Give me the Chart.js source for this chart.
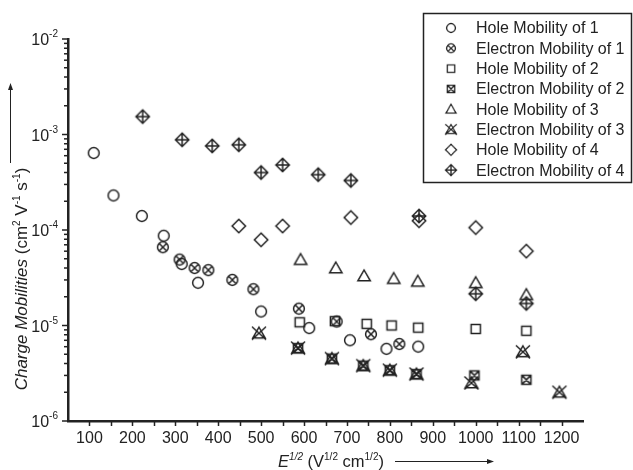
<!DOCTYPE html>
<html>
<head>
<meta charset="utf-8">
<script src="https://cdn.jsdelivr.net/npm/chart.js@4.4.0/dist/chart.umd.min.js"></script>
<style>
  html, body { margin: 0; padding: 0; background: #fff; }
  #wrap { width: 633px; height: 470px; }
</style>
</head>
<body>
<div id="wrap"><canvas id="mobChart" width="633" height="470"></canvas></div>
<script>
// axis ranges and tick labels
const xMin = 50, xMax = 1250;
const yMin = 1e-6, yMax = 1e-2;
const xTickValues = [100, 200, 300, 400, 500, 600, 700, 800, 900, 1000, 1100, 1200];
const yTickExponents = [-2, -3, -4, -5, -6];

const seriesLabels = [
  'Hole Mobility of 1', 'Electron Mobility of 1',
  'Hole Mobility of 2', 'Electron Mobility of 2',
  'Hole Mobility of 3', 'Electron Mobility of 3',
  'Hole Mobility of 4', 'Electron Mobility of 4'
];

// values (E^1/2, mobility)
const hole1X = [110, 156, 222, 273, 315, 353, 500, 612, 707, 792, 866];
const hole1Y = [6.4e-4, 2.3e-4, 1.4e-4, 8.7e-5, 4.4e-5, 2.8e-5, 1.4e-5, 9.4e-6, 7.0e-6, 5.7e-6, 6.0e-6];
const elec1X = [271, 310, 345, 377, 433, 482, 588, 676, 756, 822];
const elec1Y = [6.6e-5, 4.9e-5, 4.0e-5, 3.8e-5, 3.0e-5, 2.4e-5, 1.5e-5, 1.1e-5, 8.1e-6, 6.4e-6];
const hole2X = [590, 672, 746, 804, 866, 1000, 1118];
const hole2Y = [1.08e-5, 1.11e-5, 1.04e-5, 1.0e-5, 9.5e-6, 9.2e-6, 8.8e-6];
const elec2X = [586, 665, 738, 800, 862, 997, 1118];
const elec2Y = [5.8e-6, 4.5e-6, 3.8e-6, 3.4e-6, 3.1e-6, 3.0e-6, 2.7e-6];
const hole3X = [592, 674, 740, 809, 865, 1000, 1118];
const hole3Y = [4.9e-5, 4.0e-5, 3.3e-5, 3.1e-5, 2.9e-5, 2.8e-5, 2.1e-5];
const elec3X = [495, 586, 665, 738, 800, 862, 990, 1110, 1195];
const elec3Y = [8.3e-6, 5.8e-6, 4.5e-6, 3.8e-6, 3.4e-6, 3.1e-6, 2.5e-6, 5.3e-6, 2.0e-6];
const hole4X = [448, 500, 550, 709, 868, 1000, 1118];
const hole4Y = [1.1e-4, 7.9e-5, 1.1e-4, 1.35e-4, 1.25e-4, 1.06e-4, 6.0e-5];
const elec4X = [224, 316, 386, 448, 500, 550, 633, 709, 868, 1000, 1118];
const elec4Y = [1.54e-3, 8.8e-4, 7.6e-4, 7.8e-4, 4.0e-4, 4.8e-4, 3.8e-4, 3.3e-4, 1.4e-4, 2.15e-5, 1.7e-5];

const ink = '#222';
const fontFamily = '"Liberation Sans", Arial, sans-serif';

// build the open marker symbols as small canvases
function makeMarker(kind) {
  const size = 22;
  const c = document.createElement('canvas');
  c.width = size; c.height = size;
  const g = c.getContext('2d');
  g.translate(size / 2, size / 2);
  g.strokeStyle = ink;
  g.lineWidth = 1.5;
  g.beginPath();
  if (kind === 'circle' || kind === 'circleX') {
    g.arc(0, 0, 5.4, 0, Math.PI * 2);
    if (kind === 'circleX') {
      g.moveTo(-3.7, -3.7); g.lineTo(3.7, 3.7);
      g.moveTo(3.7, -3.7); g.lineTo(-3.7, 3.7);
    }
  } else if (kind === 'square' || kind === 'squareX') {
    g.rect(-4.6, -4.6, 9.2, 9.2);
    if (kind === 'squareX') {
      g.moveTo(-4.6, -4.6); g.lineTo(4.6, 4.6);
      g.moveTo(4.6, -4.6); g.lineTo(-4.6, 4.6);
    }
  } else if (kind === 'triangle' || kind === 'triangleX') {
    g.moveTo(0, -6); g.lineTo(6.2, 4.8); g.lineTo(-6.2, 4.8); g.closePath();
    if (kind === 'triangleX') {
      g.moveTo(-7, -6.5); g.lineTo(7, 6.5);
      g.moveTo(7, -6.5); g.lineTo(-7, 6.5);
    }
  } else if (kind === 'diamond' || kind === 'diamondPlus') {
    g.moveTo(0, -6.7); g.lineTo(6.7, 0); g.lineTo(0, 6.7); g.lineTo(-6.7, 0); g.closePath();
    if (kind === 'diamondPlus') {
      g.moveTo(0, -6.7); g.lineTo(0, 6.7);
      g.moveTo(-6.7, 0); g.lineTo(6.7, 0);
    }
  }
  g.stroke();
  return c;
}

const markerKinds = ['circle', 'circleX', 'square', 'squareX', 'triangle', 'triangleX', 'diamond', 'diamondPlus'];
const seriesX = [hole1X, elec1X, hole2X, elec2X, hole3X, elec3X, hole4X, elec4X];
const seriesY = [hole1Y, elec1Y, hole2Y, elec2Y, hole3Y, elec3Y, hole4Y, elec4Y];

const datasets = seriesLabels.map((label, i) => ({
  label: label,
  data: seriesX[i].map((x, j) => ({ x: x, y: seriesY[i][j] })),
  pointStyle: makeMarker(markerKinds[i]),
  pointRadius: 6,
  showLine: false
}));

// draw text made of runs (normal / italic / superscript)
function drawRuns(ctx, runs, x, y, align) {
  let total = 0;
  runs.forEach(r => { ctx.font = r.font; total += ctx.measureText(r.text).width; });
  let cx = align === 'center' ? x - total / 2 : (align === 'right' ? x - total : x);
  ctx.textAlign = 'left';
  ctx.textBaseline = 'alphabetic';
  runs.forEach(r => {
    ctx.font = r.font;
    ctx.fillText(r.text, cx, y + (r.dy || 0));
    cx += ctx.measureText(r.text).width;
  });
}

function arrowHead(ctx, x, y, dir) {
  ctx.beginPath();
  if (dir === 'up') {
    ctx.moveTo(x, y); ctx.lineTo(x - 2.5, y + 7); ctx.lineTo(x + 2.5, y + 7);
  } else {
    ctx.moveTo(x, y); ctx.lineTo(x - 7, y - 2.5); ctx.lineTo(x - 7, y + 2.5);
  }
  ctx.closePath();
  ctx.fill();
}

const decorPlugin = {
  id: 'decor',
  afterDraw(chart) {
    const ctx = chart.ctx;
    const xs = chart.scales.x, ys = chart.scales.y;
    const area = chart.chartArea;
    const big = '16px ' + fontFamily;
    const small = '10px ' + fontFamily;
    ctx.save();
    ctx.strokeStyle = ink;
    ctx.fillStyle = ink;

    // x ticks every 50, labels every 100
    ctx.lineWidth = 1.5;
    for (let v = xMin + 50; v < xMax; v += 50) {
      const px = Math.round(xs.getPixelForValue(v)) + 0.5;
      ctx.beginPath();
      ctx.moveTo(px, area.bottom);
      ctx.lineTo(px, area.bottom + 5);
      ctx.stroke();
    }
    ctx.font = big;
    ctx.textAlign = 'center';
    ctx.textBaseline = 'middle';
    xTickValues.forEach(v => {
      ctx.fillText(String(v), xs.getPixelForValue(v), area.bottom + 18);
    });

    // y ticks: decades and 2..9 minors
    yTickExponents.forEach(e => {
      const py = ys.getPixelForValue(Math.pow(10, e));
      ctx.beginPath();
      ctx.moveTo(area.left, py);
      ctx.lineTo(area.left - 6, py);
      ctx.stroke();
      if (e < -2) {
        for (let m = 2; m <= 9; m++) {
          const pm = ys.getPixelForValue(m * Math.pow(10, e));
          ctx.beginPath();
          ctx.moveTo(area.left, pm);
          ctx.lineTo(area.left - 4, pm);
          ctx.stroke();
        }
      }
      drawRuns(ctx, [
        { text: '10', font: big },
        { text: '-' + String(-e), font: small, dy: -8 }
      ], area.left - 10, py + 6, 'right');
    });

    // x title + arrow
    const xt = '16.5px ' + fontFamily;
    drawRuns(ctx, [
      { text: 'E', font: 'italic ' + xt },
      { text: '1/2', font: 'italic ' + small, dy: -7 },
      { text: ' (V', font: xt },
      { text: '1/2', font: small, dy: -7 },
      { text: ' cm', font: xt },
      { text: '1/2', font: small, dy: -7 },
      { text: ')', font: xt }
    ], 331, 467, 'center');
    ctx.lineWidth = 1;
    ctx.beginPath();
    ctx.moveTo(395, 461.5); ctx.lineTo(488, 461.5);
    ctx.stroke();
    arrowHead(ctx, 494, 461.5, 'right');

    // y title + arrow
    const yt = '17px ' + fontFamily;
    ctx.save();
    ctx.translate(27, 279);
    ctx.rotate(-Math.PI / 2);
    drawRuns(ctx, [
      { text: 'Charge Mobilities', font: 'italic ' + yt },
      { text: ' (cm', font: yt },
      { text: '2', font: small, dy: -7 },
      { text: ' V', font: yt },
      { text: '-1', font: small, dy: -7 },
      { text: ' s', font: yt },
      { text: '-1', font: small, dy: -7 },
      { text: ')', font: yt }
    ], 0, 0, 'center');
    ctx.restore();
    ctx.beginPath();
    ctx.moveTo(10.5, 163); ctx.lineTo(10.5, 89);
    ctx.stroke();
    arrowHead(ctx, 10.5, 83, 'up');

    // legend box
    ctx.lineWidth = 1.5;
    ctx.strokeRect(423.5, 13.5, 208, 169);
    ctx.font = '16px ' + fontFamily;
    ctx.textAlign = 'left';
    ctx.textBaseline = 'middle';
    chart.data.datasets.forEach((ds, i) => {
      const ly = 28 + i * 20.3;
      const img = ds.pointStyle;
      ctx.drawImage(img, 451 - 9, ly - 9, 18, 18);
      ctx.fillText(ds.label, 476, ly + 1);
    });
    ctx.restore();
  }
};

const ctx = document.getElementById('mobChart').getContext('2d');
const mobChart = new Chart(ctx, {
  type: 'scatter',
  data: { datasets: datasets },
  options: {
    responsive: false,
    animation: false,
    devicePixelRatio: 1,
    layout: { padding: { top: 39, right: 50, left: 0, bottom: 0 } },
    plugins: {
      legend: { display: false },
      tooltip: { enabled: false }
    },
    scales: {
      x: {
        type: 'linear',
        min: xMin,
        max: xMax,
        ticks: { display: false },
        grid: { display: false },
        border: { display: true, color: ink, width: 2.5 },
        afterFit(scale) { scale.height = 49; }
      },
      y: {
        type: 'logarithmic',
        min: yMin,
        max: yMax,
        ticks: { display: false },
        grid: { display: false },
        border: { display: true, color: ink, width: 2.5 },
        afterFit(scale) { scale.width = 68; }
      }
    }
  },
  plugins: [decorPlugin]
});
</script>
</body>
</html>
